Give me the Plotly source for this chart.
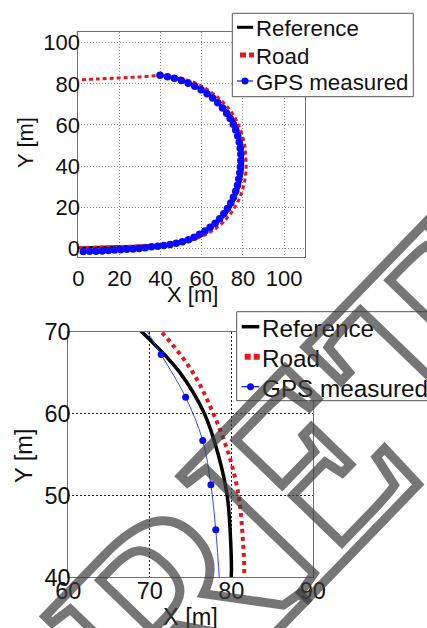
import plotly.graph_objects as go

W, H = 427, 628

# ---------------- data ----------------
ref_x = [0, 10, 20, 30, 40, 46, 50, 54, 58, 62, 66, 69.5, 72.5, 75, 77, 78.6, 79.5, 80,
         79.9, 79.5, 78.4, 76.7, 73.7, 69, 64, 58, 52, 46, 40]
ref_y = [0.3, 0.6, 0.9, 1.2, 1.7, 2.5, 3.4, 4.7, 6.5, 8.8, 11.4, 14.2, 17.8, 21.8, 26.5, 31.5, 36, 40,
         45, 50, 55, 60, 65, 70, 74.5, 78.5, 81.5, 83.3, 84]

road_x = [0, 10, 20, 30, 40, 46, 50, 55, 60, 64, 68, 71.5, 74.5, 77, 79, 80.5, 81.3, 81.6,
          81.4, 80.9, 79.7, 77.8, 75.3, 71.4, 66.5, 61, 55, 49, 44, 40, 30, 20, 10, 0]
road_y = [0.3, 0.5, 0.8, 1.1, 1.5, 2.1, 2.8, 4.0, 5.8, 7.8, 10.5, 13.8, 17.5, 21.5, 26, 31, 35.5, 40,
          45, 50, 55, 60, 65, 70, 74.5, 78.3, 81.2, 83, 83.8, 84, 83.4, 82.9, 82.4, 82]

gps_x = [2.4, 5.5, 8.6, 11.6, 14.6, 17.6, 20.6, 23.6, 26.6, 29.6, 32.6, 35.6, 38.6, 41.6,
         44.6, 47.6, 50.6, 53.5, 56.3, 59.0, 61.6, 64.1, 66.5, 68.7, 70.7, 72.5, 74.1, 75.4,
         76.5, 77.4, 78.0, 78.5, 78.8, 79.0, 79.0, 78.7, 78.2, 77.5, 76.5, 75.3, 73.8, 72.1,
         70.1, 67.8, 65.3, 62.6, 59.7, 56.6, 53.4, 50.1, 46.7, 43.3, 39.7]
gps_y = [-1.6, -1.5, -1.4, -1.3, -1.1, -0.9, -0.7, -0.5, -0.3, -0.1, 0.3, 0.7, 1.0, 1.4,
         1.8, 2.4, 3.2, 4.2, 5.4, 6.8, 8.4, 10.2, 12.2, 14.4, 16.8, 19.3, 22.0, 24.8,
         27.7, 30.7, 33.7, 36.7, 39.7, 42.7, 45.7, 48.7, 51.7, 54.6, 57.5, 60.3, 63.1, 65.7,
         68.3, 70.8, 73.1, 75.2, 77.1, 78.8, 80.3, 81.6, 82.7, 83.5, 84.2]

gps_zoom_x = [68.2, 71.4, 74.4, 76.5, 77.5, 78.1, 78.6]
gps_zoom_y = [72.5, 67.2, 62.0, 56.7, 51.3, 45.8, 39.0]

top_ticks_x = [0, 20, 40, 60, 80, 100]
top_ticks_y = [0, 20, 40, 60, 80, 100]
zoom_ticks_x = [60, 70, 80, 90]
zoom_ticks_y = [40, 50, 60, 70]
legend_names = ["Reference", "Road", "GPS measured"]

RED = "#e8161b"
BLUE = "#0a0aff"
FONT = "Liberation Sans, Arial, sans-serif"


def px(x):
    return x / W


def py(y):
    return 1 - y / H


fig = go.Figure()

# top panel
fig.add_trace(go.Scatter(x=ref_x, y=ref_y, mode="lines", line=dict(color="black", width=2.5, shape="spline"),
                         name=legend_names[0], showlegend=False, xaxis="x", yaxis="y"))
fig.add_trace(go.Scatter(x=road_x, y=road_y, mode="lines",
                         line=dict(color=RED, width=3, dash="4px,3px", shape="spline"),
                         name=legend_names[1], showlegend=False, xaxis="x", yaxis="y"))
fig.add_trace(go.Scatter(x=gps_x, y=gps_y, mode="lines+markers",
                         line=dict(color=BLUE, width=1.5), marker=dict(color=BLUE, size=7.5),
                         name=legend_names[2], showlegend=False, xaxis="x", yaxis="y"))

# zoom panel
fig.add_trace(go.Scatter(x=ref_x, y=ref_y, mode="lines", line=dict(color="black", width=3.5, shape="spline"),
                         name=legend_names[0], showlegend=False, xaxis="x2", yaxis="y2"))
fig.add_trace(go.Scatter(x=road_x, y=road_y, mode="lines",
                         line=dict(color=RED, width=4, dash="4px,4px", shape="spline"),
                         name=legend_names[1], showlegend=False, xaxis="x2", yaxis="y2"))
fig.add_trace(go.Scatter(x=gps_zoom_x, y=gps_zoom_y, mode="lines+markers",
                         line=dict(color="#3344ff", width=1, shape="spline"), marker=dict(color=BLUE, size=7),
                         name=legend_names[2], showlegend=False, xaxis="x2", yaxis="y2"))

axis_common = dict(showline=True, mirror=True, linecolor="#707070", linewidth=1, zeroline=False,
                   showgrid=True, ticks="", color="#111", automargin=False)

fig.update_layout(
    width=W, height=H, margin=dict(l=0, r=0, t=0, b=0),
    paper_bgcolor="white", plot_bgcolor="white", showlegend=False,
    font=dict(family=FONT, color="#111"),
    xaxis=dict(domain=[px(78.3), px(304.6)], range=[0, 110], tickvals=top_ticks_x, anchor="y",
               gridcolor="#8a8a8a", griddash="1px,2px", tickfont=dict(size=22), ticklabelstandoff=1,
               **axis_common),
    yaxis=dict(domain=[py(257.3), py(32.3)], range=[-4.4, 105.1], tickvals=top_ticks_y, anchor="x",
               gridcolor="#8a8a8a", griddash="1px,2px", tickfont=dict(size=22), ticklabelstandoff=-7,
               **axis_common),
    xaxis2=dict(domain=[px(68.3), px(312.7)], range=[60, 90], tickvals=zoom_ticks_x, anchor="y2",
                gridcolor="#222", griddash="2px,2px", tickfont=dict(size=23.5), ticklabelstandoff=-8,
                **axis_common),
    yaxis2=dict(domain=[py(577.3), py(331.7)], range=[40, 70], tickvals=zoom_ticks_y, anchor="x2",
                gridcolor="#222", griddash="2px,2px", tickfont=dict(size=23.5), ticklabelstandoff=-8,
                **axis_common),
)

shapes = []
annotations = []

# axis titles
annotations += [
    dict(text="Y [m]", x=px(25), y=py(143), textangle=-90, font=dict(size=22)),
    dict(text="X [m]", x=px(192), y=py(294), font=dict(size=22)),
    dict(text="Y [m]", x=px(23.3), y=py(455.7), textangle=-90, font=dict(size=23.5)),
    dict(text="X [m]", x=px(190), y=py(617), font=dict(size=23.5)),
]


def legend_box(x0, y0, x1, y1, lx0, lx1, rows, tx, fs, lw_ref, lw_road, msize):
    shapes.append(dict(type="rect", xref="paper", yref="paper", x0=px(x0), x1=px(x1), y0=py(y1), y1=py(y0),
                       line=dict(color="#555", width=1), fillcolor="white", layer="above"))
    shapes.append(dict(type="line", xref="paper", yref="paper", x0=px(lx0), x1=px(lx1), y0=py(rows[0]),
                       y1=py(rows[0]), line=dict(color="black", width=lw_ref), layer="above"))
    shapes.append(dict(type="line", xref="paper", yref="paper", x0=px(lx0 + 3), x1=px(lx1 + 1), y0=py(rows[1]),
                       y1=py(rows[1]), line=dict(color=RED, width=lw_road, dash="6px,3px"), layer="above"))
    shapes.append(dict(type="line", xref="paper", yref="paper", x0=px(lx0), x1=px(lx1), y0=py(rows[2]),
                       y1=py(rows[2]), line=dict(color=BLUE, width=1.2), layer="above"))
    cx = (lx0 + lx1) / 2
    r = msize / 2
    shapes.append(dict(type="circle", xref="paper", yref="paper", x0=px(cx - r), x1=px(cx + r),
                       y0=py(rows[2] + r), y1=py(rows[2] - r), line=dict(color=BLUE, width=0),
                       fillcolor=BLUE, layer="above"))
    for name, ry in zip(legend_names, rows):
        annotations.append(dict(text=name, x=px(tx), y=py(ry + 1.5), xanchor="left", yanchor="middle",
                                font=dict(size=fs, color="#111")))


legend_box(232.3, 13.3, 413.3, 96.7, 237, 253, [27.3, 55, 81], 254, 22.3, 3, 5, 7)
legend_box(236.7, 311.7, 445, 400.7, 241.7, 259.3, [326.7, 356.7, 386.7], 260, 24.3, 3.5, 6, 7)

# watermark
annotations.append(dict(
    text='<b><span style="fill:none;stroke:rgba(60,60,60,0.7);stroke-width:9px">RETRACTED</span></b>',
    x=px(692), y=py(70), textangle=-46, showarrow=False,
    font=dict(family="Liberation Serif, Times New Roman, serif", size=270, weight="bold",
              color="rgba(0,0,0,0)")))

for a in annotations:
    a.setdefault("xref", "paper")
    a.setdefault("yref", "paper")
    a.setdefault("showarrow", False)
    a.setdefault("xanchor", "center")
    a.setdefault("yanchor", "middle")
    a.setdefault("font", {})
    a["font"].setdefault("family", FONT)

fig.update_layout(shapes=shapes, annotations=annotations)
fig.write_html("out.html", config={"displayModeBar": False, "staticPlot": True},
               post_script="document.body.style.margin='0px';")
